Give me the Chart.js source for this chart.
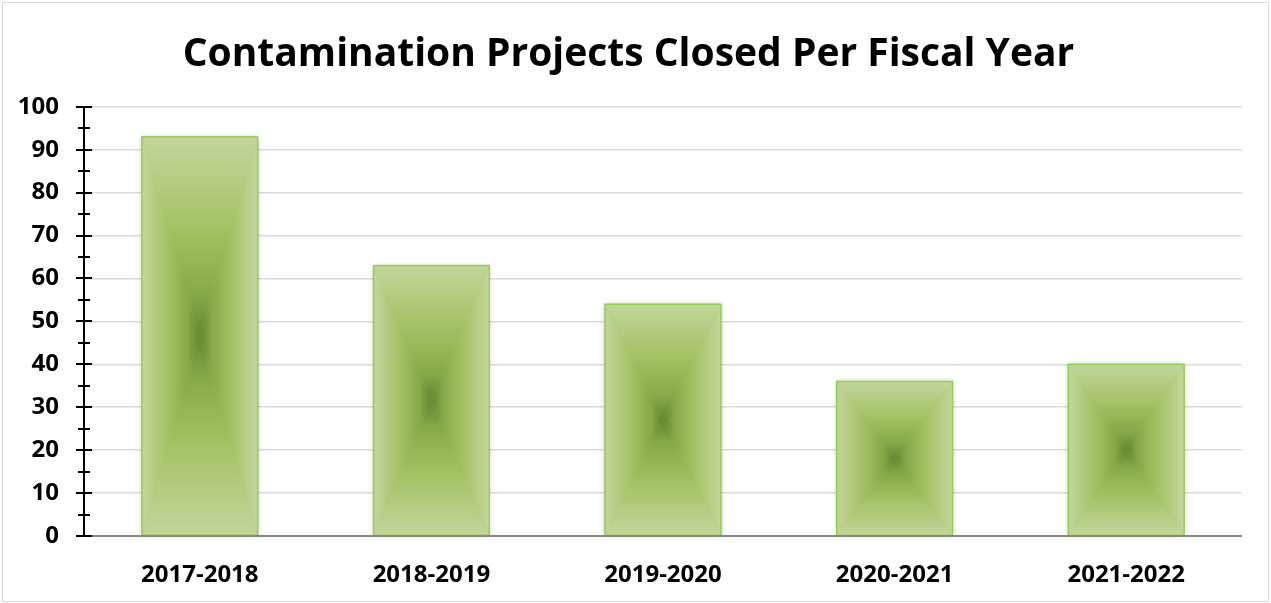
<!DOCTYPE html>
<html>
<head>
<meta charset="utf-8">
<script src="https://cdn.jsdelivr.net/npm/chart.js@4.4.1/dist/chart.umd.min.js"></script>
<style>
  html, body { margin: 0; padding: 0; background: #fff; }
  #wrap { width: 1271px; height: 603px; position: relative; }
</style>
</head>
<body>
<div id="wrap"><canvas id="chart" width="1271" height="603"></canvas></div>
<script>
const fiscalYears = ["2017-2018", "2018-2019", "2019-2020", "2020-2021", "2021-2022"];
const projectsClosed = [93, 63, 54, 36, 40];
const yMax = 100;
const yStep = 10;

// Excel-style "from center" rectangle gradient, drawn on each bar element
const rectGradient = {
  id: 'rectGradient',
  afterDatasetsDraw(chart) {
    const ctx = chart.ctx;
    const stops = [[0, '#c2d69b'], [0.45, '#a4c265'], [0.8, '#86a849'], [1, '#62862f']];
    chart.getDatasetMeta(0).data.forEach(bar => {
      const p = bar.getProps(['x', 'y', 'base', 'width'], true);
      const l = p.x - p.width / 2, r = p.x + p.width / 2, t = p.y, b = p.base;
      const cx = p.x, cy = (t + b) / 2;
      ctx.save();
      ctx.shadowColor = 'rgba(0,0,0,0.3)';
      ctx.shadowBlur = 5;
      ctx.fillStyle = '#a4c265';
      ctx.fillRect(l, t, p.width, b - t);
      ctx.restore();
      const tris = [
        [[l, t], [r, t], [cx, t, cx, cy]],
        [[l, b], [r, b], [cx, b, cx, cy]],
        [[l, t], [l, b], [l, cy, cx, cy]],
        [[r, t], [r, b], [r, cy, cx, cy]]
      ];
      tris.forEach(([a, c, g]) => {
        const grad = ctx.createLinearGradient(g[0], g[1], g[2], g[3]);
        stops.forEach(s => grad.addColorStop(s[0], s[1]));
        ctx.save();
        ctx.beginPath();
        ctx.moveTo(a[0], a[1]);
        ctx.lineTo(c[0], c[1]);
        ctx.lineTo(cx, cy);
        ctx.closePath();
        ctx.fillStyle = grad;
        ctx.fill();
        ctx.restore();
      });
      ctx.save();
      ctx.strokeStyle = '#92d050';
      ctx.lineWidth = 1.5;
      ctx.strokeRect(l, t, p.width, b - t);
      ctx.restore();
    });
    // x axis line over bar bottoms
    const xs = chart.scales.x;
    ctx.save();
    ctx.strokeStyle = '#868686';
    ctx.lineWidth = 2;
    ctx.beginPath();
    ctx.moveTo(chart.chartArea.left, xs.top);
    ctx.lineTo(chart.chartArea.right, xs.top);
    ctx.stroke();
    ctx.restore();
  }
};

// crossing major/minor tick marks on the y axis, plus the outer box
const axisMarks = {
  id: 'axisMarks',
  beforeDraw(chart) {
    const ctx = chart.ctx;
    ctx.save();
    ctx.strokeStyle = '#d9d9d9';
    ctx.lineWidth = 1;
    ctx.strokeRect(2.5, 2.5, chart.width - 5, chart.height - 4);
    ctx.restore();
  },
  afterDraw(chart) {
    const ctx = chart.ctx;
    const ys = chart.scales.y;
    const ax = chart.chartArea.left;
    ctx.save();
    ctx.strokeStyle = '#000';
    ctx.lineWidth = 2;
    for (let v = 0; v <= yMax; v += yStep / 2) {
      const py = Math.round(ys.getPixelForValue(v));
      const half = v % yStep === 0 ? 8 : 6;
      ctx.beginPath();
      ctx.moveTo(ax - half, py);
      ctx.lineTo(ax + half, py);
      ctx.stroke();
    }
    ctx.beginPath();
    ctx.moveTo(ax, ys.top);
    ctx.lineTo(ax, ys.bottom);
    ctx.stroke();
    ctx.restore();
  }
};

const data = {
  labels: fiscalYears,
  datasets: [{
    label: 'Projects Closed',
    data: projectsClosed,
    backgroundColor: '#a4c265',
    borderColor: '#92d050',
    borderWidth: 1.5,
    barPercentage: 0.5,
    categoryPercentage: 1.0
  }]
};

const config = {
  type: 'bar',
  data: data,
  options: {
    responsive: false,
    animation: false,
    layout: { padding: { left: 15, right: 29, top: 0, bottom: 13 } },
    plugins: {
      legend: { display: false },
      tooltip: { enabled: false },
      title: {
        display: true,
        text: 'Contamination Projects Closed Per Fiscal Year',
        color: '#000',
        font: { family: 'Open Sans', size: 39, weight: 'bold' },
        padding: { top: 31, bottom: 29 }
      }
    },
    scales: {
      x: {
        afterFit(scale) { scale.height = 54; },
        grid: { display: false, drawTicks: false },
        border: { display: false },
        ticks: {
          color: '#000',
          font: { family: 'Open Sans', size: 24, weight: 'bold' },
          padding: 25
        }
      },
      y: {
        min: 0,
        max: yMax,
        afterFit(scale) { scale.width = 69; },
        ticks: {
          stepSize: yStep,
          color: '#000',
          font: { family: 'Open Sans', size: 24, weight: 'bold' },
          padding: 25
        },
        grid: { color: '#d9d9d9', lineWidth: 1.5, drawTicks: false },
        border: { display: false }
      }
    }
  },
  plugins: [rectGradient, axisMarks]
};

var chart = new Chart(document.getElementById('chart'), config);
</script>
</body>
</html>
